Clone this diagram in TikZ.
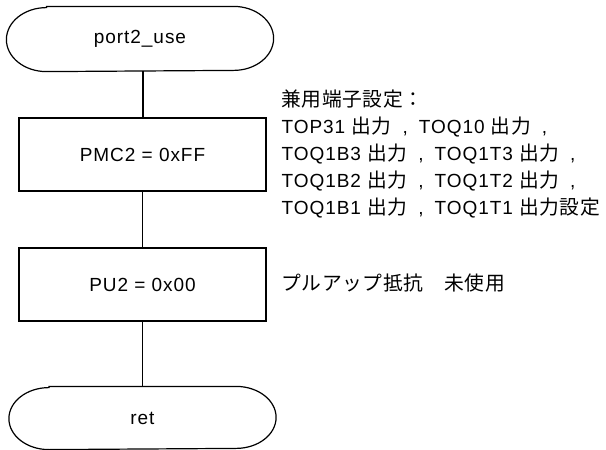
\documentclass[tikz,border=0pt]{standalone}
\usepackage{fontspec}
\setmainfont{Liberation Sans}[LetterSpace=5]
\newfontfamily\jp{Noto Sans CJK JP}[LetterSpace=3,Scale=1.04]
\newcommand\cm{\hspace{11pt},\hspace{11pt}}
\begin{document}
\begin{tikzpicture}[x=1pt,y=-1pt,line width=1.2pt,
  txt/.style={font=\fontsize{19}{27}\selectfont},
  termnode/.style={txt,minimum width=266pt,minimum height=64pt,inner sep=0pt},
  procbox/.style={txt,draw,minimum width=247pt,minimum height=73pt,inner sep=0pt},
  note/.style={txt,align=left,anchor=north west,inner sep=0pt}]
\useasboundingbox (0,0) rectangle (606,450);
\node[termnode] (start) at (140,39) {port2\_use};
\node[procbox] (pmc) at (142.5,154.5) {PMC2 = 0xFF};
\node[procbox] (pu) at (142.5,284.5) {PU2 = 0x00};
\node[termnode,minimum height=62pt] (ret) at (142.5,418) {ret};
\draw ([xshift=40pt]start.north west) -- ([xshift=-40pt]start.north east)
  arc[start angle=90,end angle=-90,x radius=40pt,y radius=32pt]
  -- ([xshift=40pt]start.south west)
  arc[start angle=270,end angle=90,x radius=40pt,y radius=32pt] -- cycle;
\draw ([xshift=40pt]ret.north west) -- ([xshift=-40pt]ret.north east)
  arc[start angle=90,end angle=-90,x radius=40pt,y radius=31pt]
  -- ([xshift=40pt]ret.south west)
  arc[start angle=270,end angle=90,x radius=40pt,y radius=31pt] -- cycle;
\coordinate (startbot) at (143,71);
\draw (pmc.north -| startbot) -- (startbot);
\draw (pmc.south) -- (pu.north);
\draw (pu.south) -- (ret.north);
\node[note] (n1) at (281,89) {{\jp 兼用端子設定：}\\
TOP31 {\jp 出力}\cm TOQ10 {\jp 出力}\cm\\
TOQ1B3 {\jp 出力}\cm TOQ1T3 {\jp 出力}\cm\\
TOQ1B2 {\jp 出力}\cm TOQ1T2 {\jp 出力}\cm\\
TOQ1B1 {\jp 出力}\cm TOQ1T1 {\jp 出力設定}};
\node[note] (n2) at (281,273) {{\jp プルアップ抵抗　未使用}};
\end{tikzpicture}
\end{document}
